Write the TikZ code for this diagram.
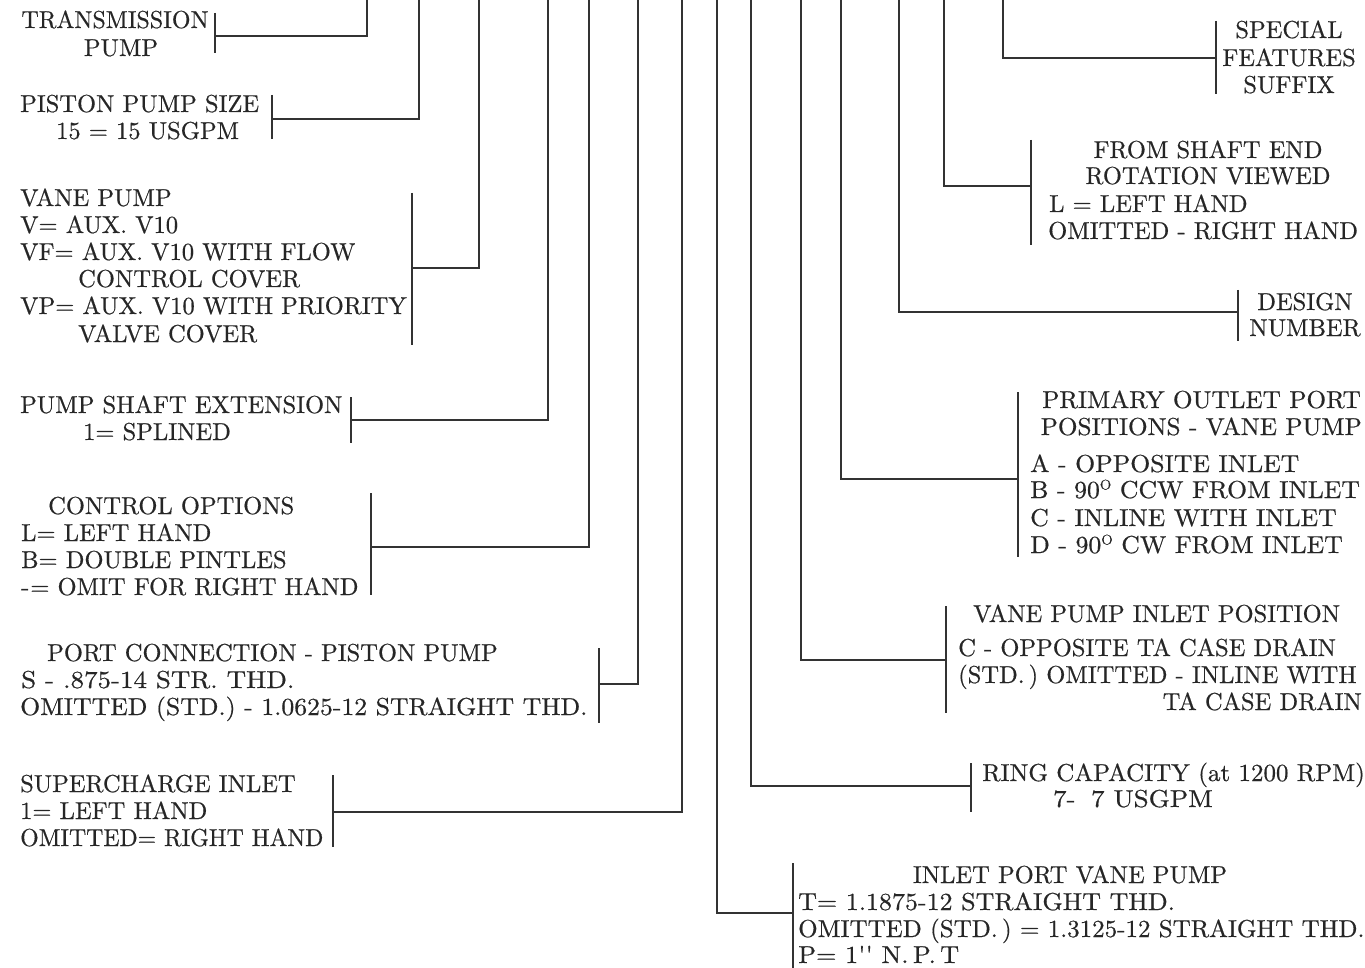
\documentclass[tikz,border=0pt]{standalone}
\font\lmten="[lmroman10-regular]:embolden=0.5" at 24.5pt
\font\lmsup="[lmroman10-regular]:embolden=0.5" at 14pt
\newcommand{\degO}{\raisebox{8.5pt}{\lmsup O}}
\begin{document}
\begin{tikzpicture}[x=1pt,y=-1pt,
  lbl/.style={inner sep=0pt, font=\lmten, text=black!85, xscale=#1},
  lbl/.default=1,
  wire/.style={draw=black!80, line width=1.8pt},
  brk/.style={draw=black!80, line width=1.5pt}]
\useasboundingbox[fill=white] (0,0) rectangle (1365,968);
% connectors: top x / horizontal y / bracket x / bracket top / bracket bottom / id
\foreach \tx/\hy/\bx/\bt/\bb/\n in {
  367/36/215/13/53/a, 419/119/272/95/139/b, 479/268/412/193/345/c,
  548/420/351/397/443/d, 589/547/371/493/595/e, 638/684/599/648/723/f,
  682/812/333/775/847/g, 717/913/793/863/968/h, 751/786/971/763/812/i,
  801/660/946/606/713/j, 841/479/1018/392/557/k, 899/312/1238/290/341/l,
  944/186/1031/140/245/m, 1003/58/1216/21/94/n}{
  \coordinate (t\n) at (\tx,0);
  \coordinate (m\n) at (\bx,\hy);
  \coordinate (u\n) at (\bx,\bt);
  \coordinate (d\n) at (\bx,\bb);
  \draw[wire] (t\n) |- (m\n);
  \draw[brk] (u\n) -- (d\n);
}
% block 1
\node[lbl=0.98,anchor=base] (a1) at (115,28) {TRANSMISSION};
\node[lbl,anchor=base] (a2) at (121,56) {PUMP};
% block 2
\node[lbl,anchor=base west] (b1) at (20,112) {PISTON PUMP SIZE};
\node[lbl,anchor=base west] (b2) at (56,139) {15 = 15 USGPM};
% block 3
\node[lbl,anchor=base west] (c1) at (20,206) {VANE PUMP};
\node[lbl,anchor=base west] (c2) at (20,233) {V= AUX.\ V10};
\node[lbl,anchor=base west] (c3) at (20,260) {VF= AUX.\ V10 WITH FLOW};
\node[lbl,anchor=base west] (c4) at (78,287) {CONTROL COVER};
\node[lbl,anchor=base west] (c5) at (20,314) {VP= AUX.\ V10 WITH PRIORITY};
\node[lbl,anchor=base west] (c6) at (78,342) {VALVE COVER};
% block 4
\node[lbl,anchor=base west] (d1) at (20,413) {PUMP SHAFT EXTENSION};
\node[lbl,anchor=base west] (d2) at (83,440) {1= SPLINED};
% block 5
\node[lbl,anchor=base west] (e1) at (48,514) {CONTROL OPTIONS};
\node[lbl,anchor=base west] (e2) at (21,541) {L= LEFT HAND};
\node[lbl,anchor=base west] (e3) at (21,568) {B= DOUBLE PINTLES};
\node[lbl,anchor=base west] (e4) at (21,595) {-\kern1pt= OMIT FOR RIGHT HAND};
% block 6
\node[lbl,anchor=base west] (f1) at (47,661) {PORT CONNECTION - PISTON PUMP};
\node[lbl=1.1,anchor=base west] (f2) at (21,688) {S - .875-14 STR.\ THD.};
\node[lbl=1.05,anchor=base west] (f3) at (20,715) {OMITTED (STD.) - 1.0625-12 STRAIGHT THD.};
% block 7
\node[lbl,anchor=base west] (g1) at (20,792) {SUPERCHARGE INLET};
\node[lbl,anchor=base west] (g2) at (20,819) {1= LEFT HAND};
\node[lbl=0.97,anchor=base west] (g3) at (20,846) {OMITTED= RIGHT HAND};
% block 8
\node[lbl,anchor=base] (h1) at (1070,883) {INLET PORT VANE PUMP};
\node[lbl=1.06,anchor=base west] (h2) at (798,910) {T= 1.1875-12 STRAIGHT THD.};
\node[lbl=1.02,anchor=base west] (h3) at (798,937) {OMITTED (STD.\,) = 1.3125-12 STRAIGHT THD.};
\node[lbl=1.07,anchor=base west] (h4) at (798,963) {P= 1'' N.\,P.\,T};
% block 9
\node[lbl=1.02,anchor=base west] (i1) at (982,781) {RING CAPACITY (at 1200 RPM)};
\node[lbl=1.1,anchor=base] (i2) at (1133,807) {7-\hspace{6pt} 7 USGPM};
% block 10
\node[lbl,anchor=base west] (j1) at (973,622) {VANE PUMP INLET POSITION};
\node[lbl,anchor=base west] (j2) at (958,656) {C - OPPOSITE TA CASE DRAIN};
\node[lbl,anchor=base west] (j3) at (958,683) {(STD.\,) OMITTED - INLINE WITH};
\node[lbl,anchor=base east] (j4) at (1362,710) {TA CASE DRAIN};
% block 11
\node[lbl=1.03,anchor=base east] (k1) at (1361,408) {PRIMARY OUTLET PORT};
\node[lbl=1.03,anchor=base east] (k2) at (1362,435) {POSITIONS - VANE PUMP};
\node[lbl=1.05,anchor=base west] (k3) at (1030,472) {A - OPPOSITE INLET};
\node[lbl=1.05,anchor=base west] (k4) at (1030,498) {B - 90\degO\ CCW FROM INLET};
\node[lbl=1.05,anchor=base west] (k5) at (1030,526) {C - INLINE WITH INLET};
\node[lbl=1.05,anchor=base west] (k6) at (1030,553) {D - 90\degO\ CW FROM INLET};
% block 12
\node[lbl,anchor=base] (l1) at (1305,310) {DESIGN};
\node[lbl,anchor=base] (l2) at (1305,336) {NUMBER};
% block 13
\node[lbl,anchor=base] (m1) at (1208,158) {FROM SHAFT END};
\node[lbl,anchor=base] (m2) at (1208,184) {ROTATION VIEWED};
\node[lbl,anchor=base west] (m3) at (1049,212) {L = LEFT HAND};
\node[lbl,anchor=base west] (m4) at (1048,239) {OMITTED - RIGHT HAND};
% block 14
\node[lbl,anchor=base] (n1) at (1289,38) {SPECIAL};
\node[lbl,anchor=base] (n2) at (1289,66) {FEATURES};
\node[lbl,anchor=base] (n3) at (1289,93) {SUFFIX};
\end{tikzpicture}
\end{document}
